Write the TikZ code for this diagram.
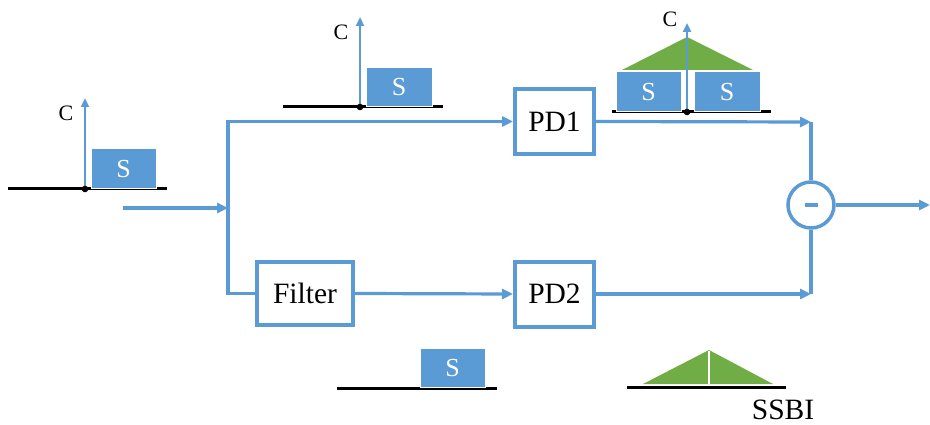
\documentclass[tikz,border=0pt]{standalone}
\usepackage{fontspec}
\setmainfont{Liberation Serif}
\usetikzlibrary{arrows.meta}
\definecolor{flow}{RGB}{91,155,213}
\definecolor{band}{RGB}{112,173,71}
\begin{document}
\begin{tikzpicture}[x=1pt,y=-1pt,
  line join=miter,
  blk/.style={draw=flow, line width=4pt, fill=white, minimum width=79pt, minimum height=65pt,
    inner sep=0pt, font=\fontsize{29.5}{34}\selectfont},
  wire/.style={draw=flow, line width=3.2pt},
  arr/.style={wire, -{Triangle[length=11pt,width=10pt]}},
  carrier/.style={draw=flow, line width=2.6pt, -{Triangle[length=9pt,width=8pt]}},
  axis/.style={draw=black, line width=3pt},
  sbox/.style={fill=flow, draw=white, line width=0.8pt},
  slabel/.style={text=white, font=\fontsize{26}{30}\selectfont, inner sep=0pt},
  clabel/.style={font=\fontsize{22}{26}\selectfont, inner sep=0pt},
  tri/.style={fill=band}
]
\useasboundingbox (0,0) rectangle (930,425);

% processing blocks
\node[blk] (pd1) at (554.5,121.5) {PD1};
\node[blk] (pd2) at (554.5,294) {PD2};
\node[blk, minimum width=96pt, minimum height=63pt] (filter) at (305,293.5) {Filter};
\node[circle, draw=flow, line width=3.5pt, minimum size=46pt, inner sep=0pt] (sub) at (811,205) {};
\draw[flow, line width=4pt] ([xshift=-6.5pt]sub.center) -- ([xshift=6.5pt]sub.center);

% junction and end points
\coordinate (in) at (123,208);
\coordinate (split) at (228,208);
\coordinate (j1) at (811,122);
\coordinate (j2) at (811,294);
\coordinate (out) at (930,205);

% signal paths
\draw[arr] (in) -- (split);
\draw[arr] (split) |- (pd1.west);
\draw[wire] (split) |- (filter.west);
\draw[arr] (filter.east) -- (pd2.west);
\draw[arr] (pd1.east) -- (j1);
\draw[arr] (pd2.east) -- (j2);
\draw[wire] (j1) -- (sub.north);
\draw[wire] (j2) -- (sub.south);
\draw[arr] (sub.east) -- (out);

% input spectrum: carrier + signal
\draw[axis] (8,189) -- (167,189);
\fill[sbox] (91,148) rectangle (156,188);
\node[slabel] at (123.5,169) {S};
\draw[carrier] (85,189) -- (85,98);
\fill (85,189) circle (3.3);
\node[clabel] at (66,113) {C};

% upper branch spectrum
\draw[axis] (283,107) -- (443,107);
\fill[sbox] (366,67) rectangle (432,106);
\node[slabel] at (399,87) {S};
\draw[carrier] (360,107) -- (360,17);
\fill (360,107) circle (3.3);
\node[clabel] at (341,32) {C};

% spectrum after PD1
\draw[axis] (612,112) -- (771,112);
\fill[tri] (622,70) -- (687,37) -- (753,70) -- cycle;
\filldraw[sbox] (616,71) rectangle (681,111);
\filldraw[sbox] (694,71) rectangle (760,111);
\node[slabel] at (648.5,92) {S};
\node[slabel] at (727,92) {S};
\draw[carrier] (687,112) -- (687,23);
\fill (687,112) circle (3.3);
\node[clabel] at (670,19) {C};

% filtered spectrum
\draw[axis] (337,388) -- (497,388);
\fill[sbox] (420,348) rectangle (485,387);
\node[slabel] at (452.5,368) {S};

% beat interference after PD2
\draw[axis] (627,387) -- (786,387);
\fill[tri] (643,384) -- (709,350) -- (773,384) -- cycle;
\draw[white, line width=1.2pt] (709,351) -- (709,384);
\node[font=\fontsize{29.5}{34}\selectfont, inner sep=0pt] (ssbi) at (783,410) {SSBI};
\end{tikzpicture}
\end{document}
